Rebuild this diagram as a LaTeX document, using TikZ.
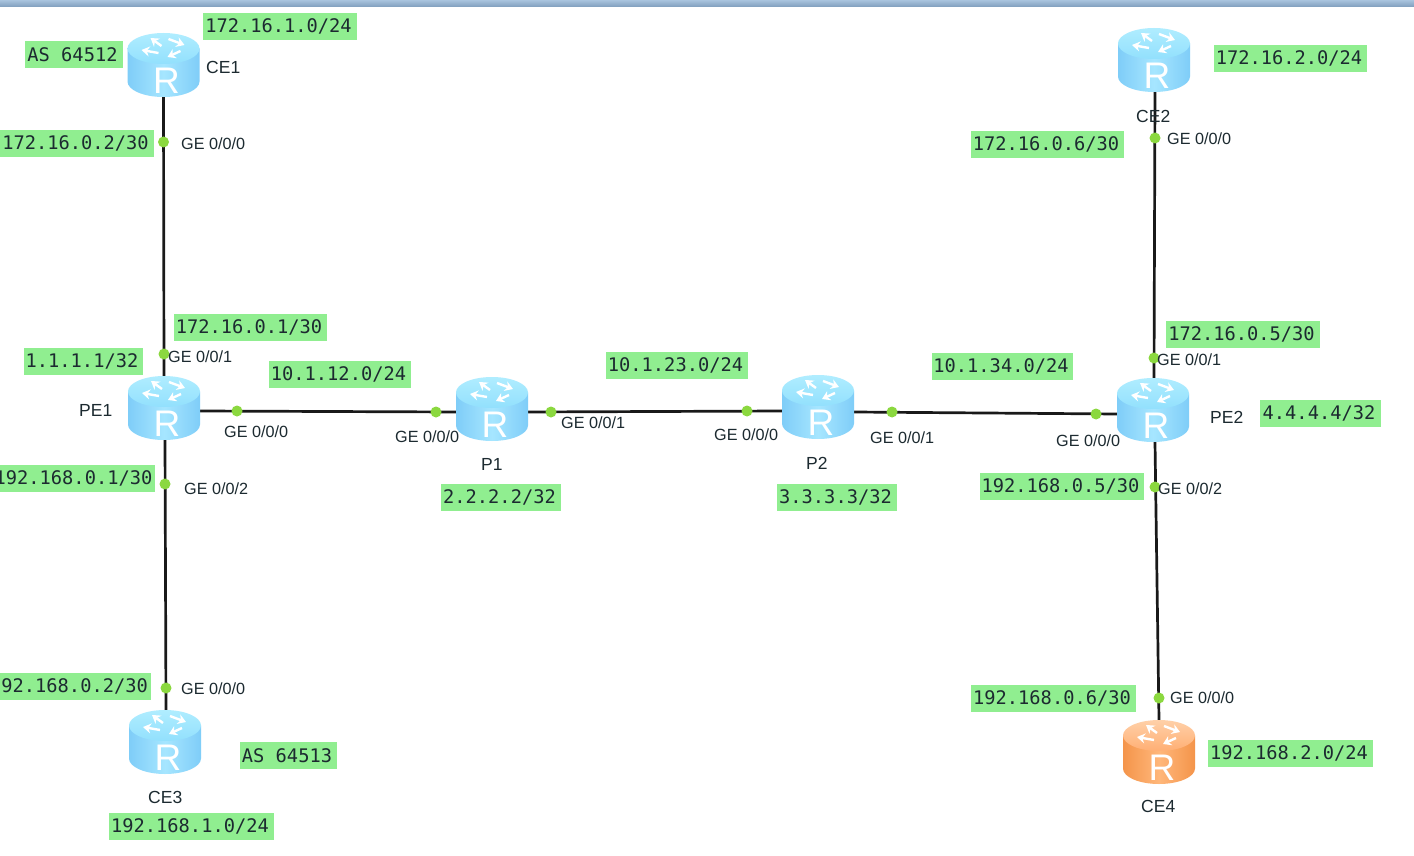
\documentclass[tikz,border=0pt]{standalone}
\usepackage{fontspec}
\setmainfont{Liberation Sans}
\newfontfamily\netfont{DejaVu Sans Mono}
\usetikzlibrary{arrows.meta}
\definecolor{netgreen}{HTML}{90EE90}
\definecolor{dotgreen}{HTML}{8BD83F}
\definecolor{inkdark}{HTML}{1C2A30}
\definecolor{bluea}{HTML}{7FCDF8}
\definecolor{blueb}{HTML}{A6E6FF}
\definecolor{bluec}{HTML}{92E0FD}
\definecolor{blued}{HTML}{B0EDFF}
\definecolor{orangea}{HTML}{F4944A}
\definecolor{orangeb}{HTML}{FFB77A}
\definecolor{orangec}{HTML}{FFAF74}
\definecolor{oranged}{HTML}{FFD0A8}
\definecolor{bartop}{HTML}{A9C4DE}
\definecolor{barbot}{HTML}{7F9DBC}
\tikzset{
  netbox/.style={fill=netgreen,inner sep=0pt,minimum height=27pt,text=inkdark,font=\fontsize{18.7}{20}\selectfont\netfont,execute at begin node=\hspace*{-3pt}},
  portlab/.style={anchor=west,inner sep=0pt,text=inkdark,font=\fontsize{16.2}{18}\selectfont},
  namelab/.style={anchor=west,inner sep=0pt,text=inkdark,font=\fontsize{17.5}{19}\selectfont},
  portdot/.style={circle,fill=dotgreen,inner sep=0pt,minimum size=11pt},
  routerbox/.style={rectangle,inner sep=0pt,minimum width=72pt,minimum height=64pt},
  link/.style={line width=2.7pt,black!90},
  pin/.style={draw=white,line width=2.4pt,-{Stealth[length=8pt,width=10pt]}},
}
% #1 name, #2 side colour, #3 side highlight, #4 top colour, #5 top highlight
\newcommand{\routericon}[5]{%
  \begin{scope}[shift={(#1.center)}]
    \path[left color=#2,right color=#2,middle color=#3]
      (-36,-16.5) -- (-36,16.5) arc[start angle=180,end angle=360,x radius=36pt,y radius=15.5pt] -- (36,-16.5) -- cycle;
    \path[top color=#5,bottom color=#4] (0,-16.5) ellipse[x radius=36pt,y radius=15.5pt];
    \draw[pin] (-2,-19) -- (-13,-27);
    \draw[pin] (5,-26) -- (21,-20);
    \draw[pin] (17,-14) -- (4,-8);
    \draw[pin] (-5,-12) -- (-22,-15);
    \node[inner sep=0pt,text=white,font=\fontsize{37}{37}\selectfont] (#1R) at (3,16) {R};
  \end{scope}}
\begin{document}
\begin{tikzpicture}[x=1pt,y=-1pt]
\useasboundingbox (0,0) rectangle (1414,856);
\fill[white] (0,0) rectangle (1414,856);
\path[top color=bartop,bottom color=barbot] (0,0) rectangle (1414,7);

% routers (anchors for the connectors)
\node[routerbox] (CEone) at (163.5,65) {};
\node[routerbox] (PEone) at (164,408) {};
\node[routerbox] (Pone) at (492,409) {};
\node[routerbox] (Ptwo) at (818,407) {};
\node[routerbox] (PEtwo) at (1153,410) {};
\node[routerbox] (CEtwo) at (1154,60) {};
\node[routerbox] (CEthree) at (165,742) {};
\node[routerbox] (CEfour) at (1159,752) {};

% port positions
\foreach \n/\px/\py in {a/163.5/142,b/164/354,c/237/411,d/436/412,e/551/412,f/747/411,g/892/412,h/1096/414,i/165/484,j/166/688,k/1155/138,l/1154/358,m/1155/487,n/1159/698}
  \coordinate (pos\n) at (\px,\py);

% links
\draw[link] (CEone.south -| posa) -- (PEone.north -| posb);
\draw[link] (PEone.south -| posi) -- (CEthree.north -| posj);
\draw[link] (PEone.east |- posc) -- (Pone.west |- posd);
\draw[link] (Pone.east |- pose) -- (Ptwo.west |- posf);
\draw[link] (Ptwo.east |- posg) -- (PEtwo.west |- posh);
\draw[link] (CEtwo.south -| posk) -- (PEtwo.north -| posl);
\draw[link] (PEtwo.south -| posm) -- (CEfour.north -| posn);

% icons
\routericon{CEone}{bluea}{blueb}{bluec}{blued}
\routericon{PEone}{bluea}{blueb}{bluec}{blued}
\routericon{Pone}{bluea}{blueb}{bluec}{blued}
\routericon{Ptwo}{bluea}{blueb}{bluec}{blued}
\routericon{PEtwo}{bluea}{blueb}{bluec}{blued}
\routericon{CEtwo}{bluea}{blueb}{bluec}{blued}
\routericon{CEthree}{bluea}{blueb}{bluec}{blued}
\routericon{CEfour}{orangea}{orangeb}{orangec}{oranged}

% port dots
\foreach \n in {a,b,c,d,e,f,g,h,i,j,k,l,m,n}
  \node[portdot] (dot\n) at (pos\n) {};

% port labels
\node[portlab] (pa) at (181,144) {GE 0/0/0};
\node[portlab] (pb) at (168,357) {GE 0/0/1};
\node[portlab] (pc) at (224,432) {GE 0/0/0};
\node[portlab] (pd) at (395,437) {GE 0/0/0};
\node[portlab] (pe) at (561,423) {GE 0/0/1};
\node[portlab] (pf) at (714,435) {GE 0/0/0};
\node[portlab] (pg) at (870,438) {GE 0/0/1};
\node[portlab] (ph) at (1056,441) {GE 0/0/0};
\node[portlab] (pi) at (184,489) {GE 0/0/2};
\node[portlab] (pj) at (181,689) {GE 0/0/0};
\node[portlab] (pk) at (1167,139) {GE 0/0/0};
\node[portlab] (pl) at (1157,360) {GE 0/0/1};
\node[portlab] (pm) at (1158,489) {GE 0/0/2};
\node[portlab] (pn) at (1170,698) {GE 0/0/0};

% router names
\node[namelab] (nCEone) at (206,67) {CE1};
\node[namelab] (nPEone) at (79,410) {PE1};
\node[namelab] (nPone) at (481,464) {P1};
\node[namelab] (nPtwo) at (806,463) {P2};
\node[namelab] (nPEtwo) at (1210,417) {PE2};
\node[namelab] (nCEtwo) at (1136,116) {CE2};
\node[namelab] (nCEthree) at (148,797) {CE3};
\node[namelab] (nCEfour) at (1141,806) {CE4};

% address boxes
\node[netbox,minimum width=154pt] (b1) at (280,26.5) {172.16.1.0/24};
\node[netbox,minimum width=98pt] (b2) at (74,55) {AS 64512};
\node[netbox,minimum width=154pt] (b3) at (77,143.5) {172.16.0.2/30};
\node[netbox,minimum width=153pt] (b4) at (250.5,327.5) {172.16.0.1/30};
\node[netbox,minimum width=119pt] (b5) at (83.5,361.5) {1.1.1.1/32};
\node[netbox,minimum width=142pt] (b6) at (340,374.5) {10.1.12.0/24};
\node[netbox,minimum width=160pt] (b7) at (75,478.5) {192.168.0.1/30};
\node[netbox,minimum width=142pt] (b8) at (677,365.5) {10.1.23.0/24};
\node[netbox,minimum width=141pt] (b9) at (1002.5,366.5) {10.1.34.0/24};
\node[netbox,minimum width=120pt] (b10) at (501,497.5) {2.2.2.2/32};
\node[netbox,minimum width=120pt] (b11) at (837,497.5) {3.3.3.3/32};
\node[netbox,minimum width=153pt] (b12) at (1290.5,58.5) {172.16.2.0/24};
\node[netbox,minimum width=153pt] (b13) at (1047.5,144.5) {172.16.0.6/30};
\node[netbox,minimum width=154pt] (b14) at (1243,334.5) {172.16.0.5/30};
\node[netbox,minimum width=121pt] (b15) at (1320.5,413.5) {4.4.4.4/32};
\node[netbox,minimum width=164pt] (b16) at (1062,486.5) {192.168.0.5/30};
\node[netbox,minimum width=161pt] (b17) at (70.5,686.5) {192.168.0.2/30};
\node[netbox,minimum width=97pt] (b18) at (288.5,755.5) {AS 64513};
\node[netbox,minimum width=165pt] (b19) at (191.5,826.5) {192.168.1.0/24};
\node[netbox,minimum width=165pt] (b20) at (1053.5,698.5) {192.168.0.6/30};
\node[netbox,minimum width=165pt] (b21) at (1290.5,753.5) {192.168.2.0/24};
\end{tikzpicture}
\end{document}
